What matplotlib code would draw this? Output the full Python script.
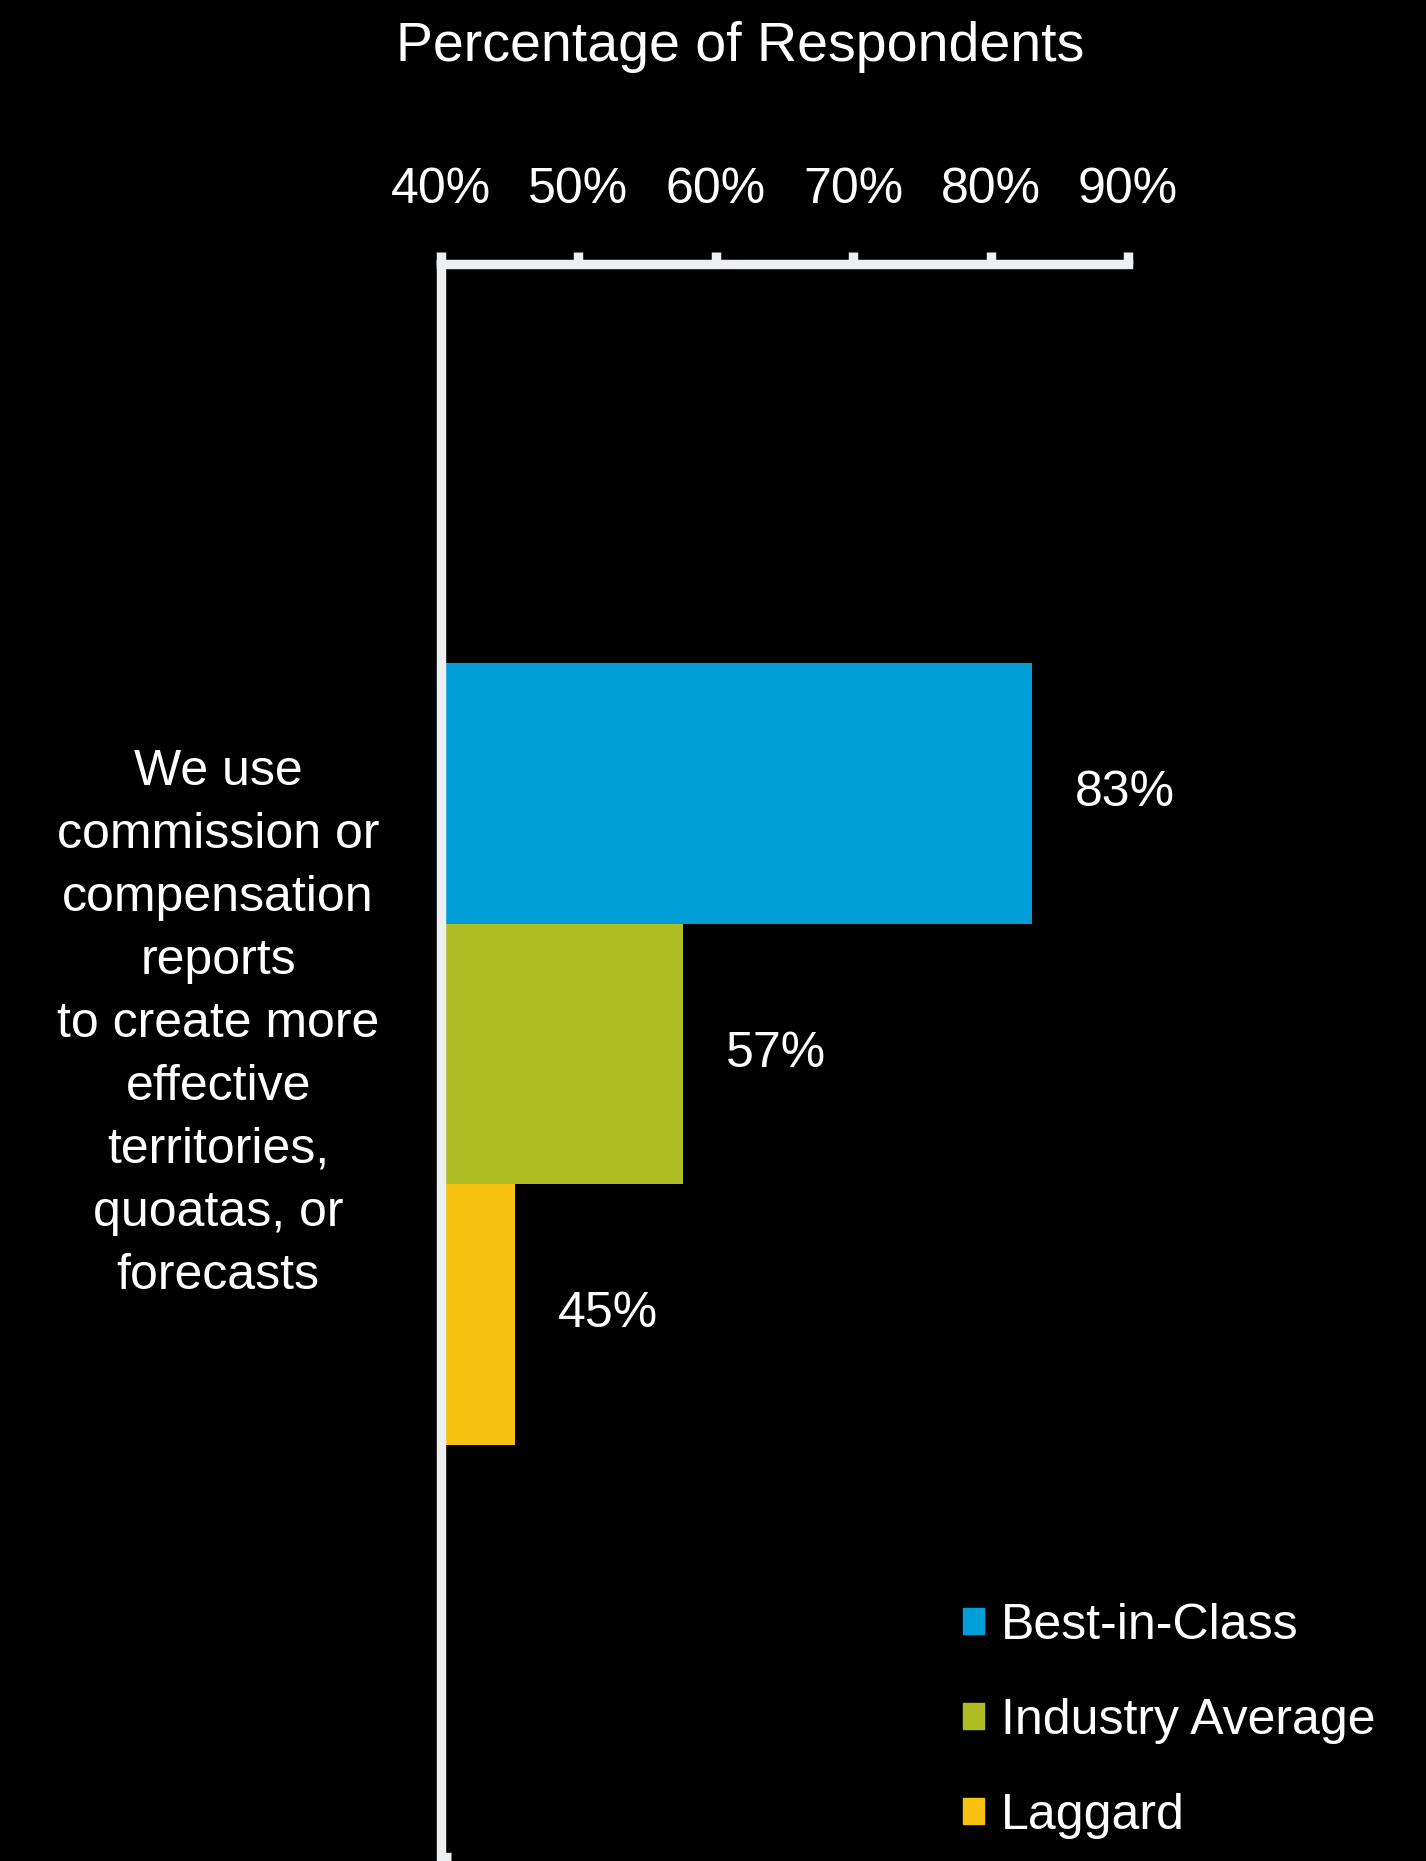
import matplotlib
matplotlib.use("Agg")
import matplotlib.pyplot as plt

# data (bar lengths as drawn, labels as printed)
categories = ["Best-in-Class", "Industry Average", "Laggard"]
values = [83.0, 57.6, 45.4]
value_labels = ["83%", "57%", "45%"]
colors = ["#009ED9", "#AEBD24", "#F6C10F"]
ticks = [40, 50, 60, 70, 80, 90]
tick_labels = ["40%", "50%", "60%", "70%", "80%", "90%"]
question = ("We use\ncommission or\ncompensation\nreports\nto create more\n"
            "effective\nterritories,\nquoatas, or\nforecasts")
title = "Percentage of Respondents"

plt.rcParams["font.family"] = ["Liberation Sans", "DejaVu Sans"]
line_col = "#EEEFF1"

fig = plt.figure(figsize=(14.26, 18.61), dpi=100, facecolor="black")
ax = fig.add_axes([0.3093, 0.002, 0.4818, 0.8564])
ax.set_facecolor("black")

pos = list(range(len(values)))
ax.barh(pos, values, height=1.0, color=colors, zorder=1)

ax.set_xlim(40, 90)
ax.set_ylim(4.085, -2.035)

for p, v, lab in zip(pos, values, value_labels):
    ax.text(v + 3.1, p, lab, va="center", ha="left",
            fontsize=36, color="white")

# only top and left spines, thick light grey
for side in ["right", "bottom"]:
    ax.spines[side].set_visible(False)
for side in ["top", "left"]:
    ax.spines[side].set_color(line_col)
    ax.spines[side].set_linewidth(6.8)
    ax.spines[side].set_zorder(3)

ax.xaxis.tick_top()
ax.set_xticks(ticks)
ax.set_xticklabels(tick_labels)
ax.tick_params(axis="x", colors=line_col, labelcolor="white", length=8.6,
               width=6.8, direction="out", pad=28, labelsize=36)
ax.set_yticks([4.085])
ax.set_yticklabels([""])
ax.tick_params(axis="y", colors=line_col, length=7, width=6.8, direction="in")

fig.text(0.519, 1 - 47 / 1861, title, ha="center", va="center",
         fontsize=40, color="white")
fig.text(0.153, 1 - 1024 / 1861, question, ha="center", va="center",
         multialignment="center", fontsize=36, color="white", linespacing=1.47)

handles = [plt.Rectangle((0, 0), 1, 1, color=c) for c in colors]
leg = ax.legend(handles, categories, loc="upper left",
                bbox_to_anchor=(963 / 1426, 1 - 1603 / 1861),
                bbox_transform=fig.transFigure, frameon=False, fontsize=36,
                handlelength=0.42, handleheight=0.42, handletextpad=0.34,
                labelspacing=0.98, borderpad=0, borderaxespad=0)
for t in leg.get_texts():
    t.set_color("white")

fig.savefig("out.png", dpi=100, facecolor="black")
